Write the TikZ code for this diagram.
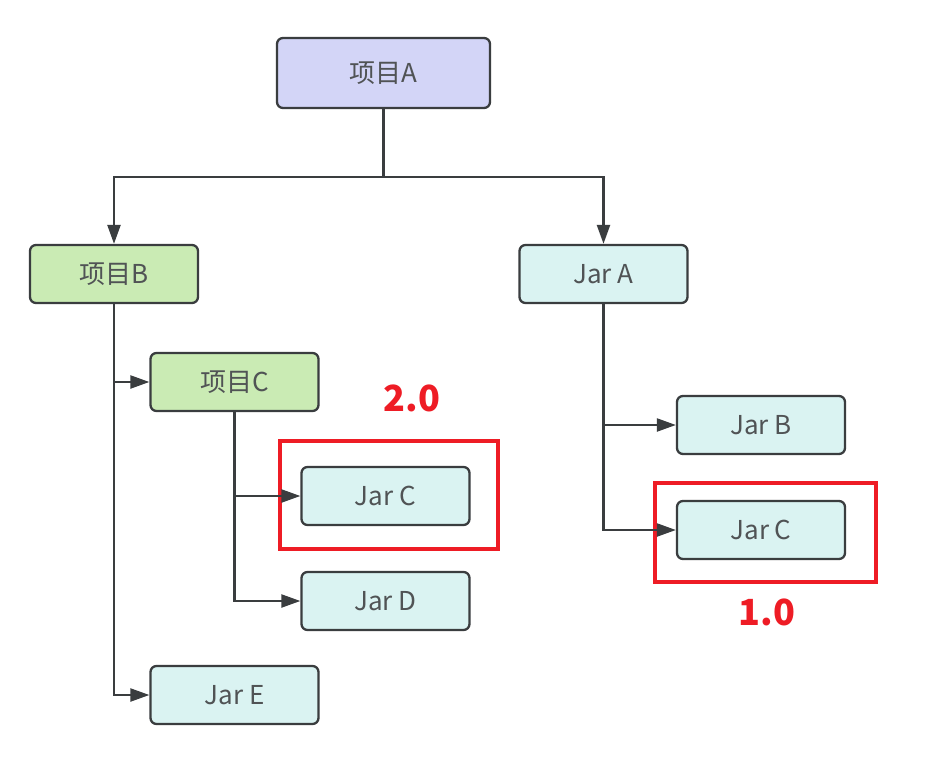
\documentclass[tikz,border=0pt]{standalone}
\usepackage{fontspec}
\setmainfont{Noto Sans CJK SC}
\usetikzlibrary{arrows.meta}
\definecolor{bordergray}{HTML}{3A3D3F}
\definecolor{txtgray}{HTML}{505355}
\definecolor{projA}{HTML}{D3D5F7}
\definecolor{projG}{HTML}{CAEBB4}
\definecolor{jarC}{HTML}{DAF3F2}
\definecolor{redmark}{HTML}{EE1C25}
\tikzset{
  x=1pt, y=-1pt,
  box/.style={draw=bordergray, line width=2.3pt, rounded corners=6pt, text=txtgray,
    font=\fontsize{26}{30}\selectfont, anchor=center, inner sep=0pt},
  projbox/.style={box, fill=projA, minimum width=213pt, minimum height=70pt},
  greenbox/.style={box, fill=projG, minimum width=168pt, minimum height=58pt},
  jarbox/.style={box, fill=jarC, minimum width=168pt, minimum height=58pt},
  conn/.style={draw=bordergray, line width=2.3pt},
  arr/.style={conn, -{Triangle[length=19pt, width=13pt]}},
  redbox/.style={draw=redmark, line width=3.5pt},
  redlabel/.style={text=redmark, font=\fontsize{36}{40}\selectfont\bfseries, inner sep=0pt}
}
\begin{document}
\begin{tikzpicture}
\useasboundingbox (0,0) rectangle (930,756);
\fill[white] (0,0) rectangle (930,756);

\node[projbox] (A) at (383.5,73) {项目A};
\node[greenbox] (B) at (114,274) {项目B};
\node[jarbox] (JA) at (603.5,274) {Jar A};
\node[greenbox] (C) at (234.5,382) {项目C};
\node[jarbox] (JC1) at (385.5,496) {Jar C};
\node[jarbox] (JD) at (385.5,601) {Jar D};
\node[jarbox] (JE) at (234.5,695) {Jar E};
\node[jarbox] (JB) at (761,425) {Jar B};
\node[jarbox] (JC2) at (761,530) {Jar C};

% red highlight boxes
\draw[redbox] (280,441) rectangle (498,549);
\draw[redbox] (655,483) rectangle (876,582);
\node[redlabel] (L2) at (412,398) {2.0};
\node[redlabel] (L1) at (767,612) {1.0};

% connectors
\coordinate (mA) at (383.5,177);
\draw[conn] (A.south) -- (mA);
\draw[arr] (mA) -| (B.north);
\draw[arr] (mA) -| (JA.north);

\draw[arr] (B.south) |- (JE.west);
\draw[arr] (B.south |- C.west) -- (C.west);

\draw[arr] (C.south) |- (JD.west);
\draw[arr] (C.south |- JC1.west) -- (JC1.west);

\draw[arr] (JA.south) |- (JC2.west);
\draw[arr] (JA.south |- JB.west) -- (JB.west);
\end{tikzpicture}
\end{document}
